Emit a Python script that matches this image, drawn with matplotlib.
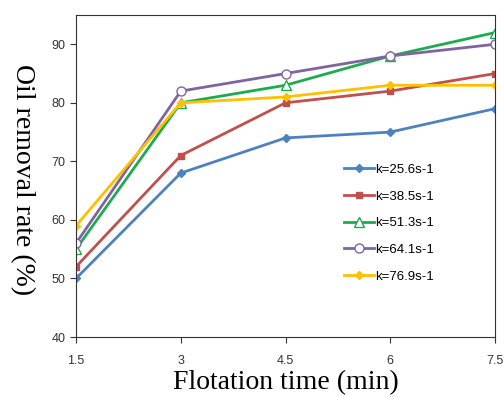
import matplotlib
matplotlib.use("Agg")
import matplotlib.pyplot as plt

time = [1.5, 3, 4.5, 6, 7.5]
k256 = [50, 68, 74, 75, 79]
k385 = [52, 71, 80, 82, 85]
k513 = [55, 80, 83, 88, 92]
k641 = [56, 82, 85, 88, 90]
k769 = [59, 80, 81, 83, 83]

labels = ["k=25.6s-1", "k=38.5s-1", "k=51.3s-1", "k=64.1s-1", "k=76.9s-1"]

fig = plt.figure(figsize=(5.04, 3.97), dpi=100)
ax = fig.add_axes([76/504, 60/397, 419/504, 322/397])

ax.plot(time, k256, color="#4F81BD", marker="D", ms=4.5, lw=2, label=labels[0])
ax.plot(time, k385, color="#C0504D", marker="s", ms=5, lw=2, label=labels[1])
ax.plot(time, k513, color="#1EAA4E", marker="^", ms=6.5, mfc="white", lw=2, label=labels[2])
ax.plot(time, k641, color="#8064A2", marker="o", ms=6.5, mfc="white", lw=2, label=labels[3])
ax.plot(time, k769, color="#FFC000", marker="D", ms=4.5, lw=2, label=labels[4])

ax.set_xlim(1.5, 7.5)
ax.set_ylim(40, 95)
ax.set_xticks(time)
ax.set_xticklabels(["1.5", "3", "4.5", "6", "7.5"])
ax.set_yticks([40, 50, 60, 70, 80, 90])
for lab in ax.get_xticklabels() + ax.get_yticklabels():
    lab.set_fontfamily("Liberation Sans")
    lab.set_fontsize(9)
ax.tick_params(direction="out", length=4, width=0.8, colors="#333333")
ax.tick_params(axis="x", pad=9)
for s in ax.spines.values():
    s.set_color("#333333")
    s.set_linewidth(0.8)

ax.set_xlabel("Flotation time (min)", fontfamily="Liberation Serif", fontsize=20, labelpad=2)
ax.set_ylabel("Oil removal rate (%)", fontfamily="Liberation Serif", fontsize=20,
              rotation=-90)
ax.yaxis.set_label_coords(-0.158, 0.49)

ax.legend(loc="upper left", bbox_to_anchor=(0.623, 0.559), frameon=False,
          prop={"family": "Liberation Sans", "size": 9.5}, handlelength=2.3,
          handletextpad=0.1, labelspacing=1.1, borderpad=0)

fig.savefig("out.png", dpi=100)
